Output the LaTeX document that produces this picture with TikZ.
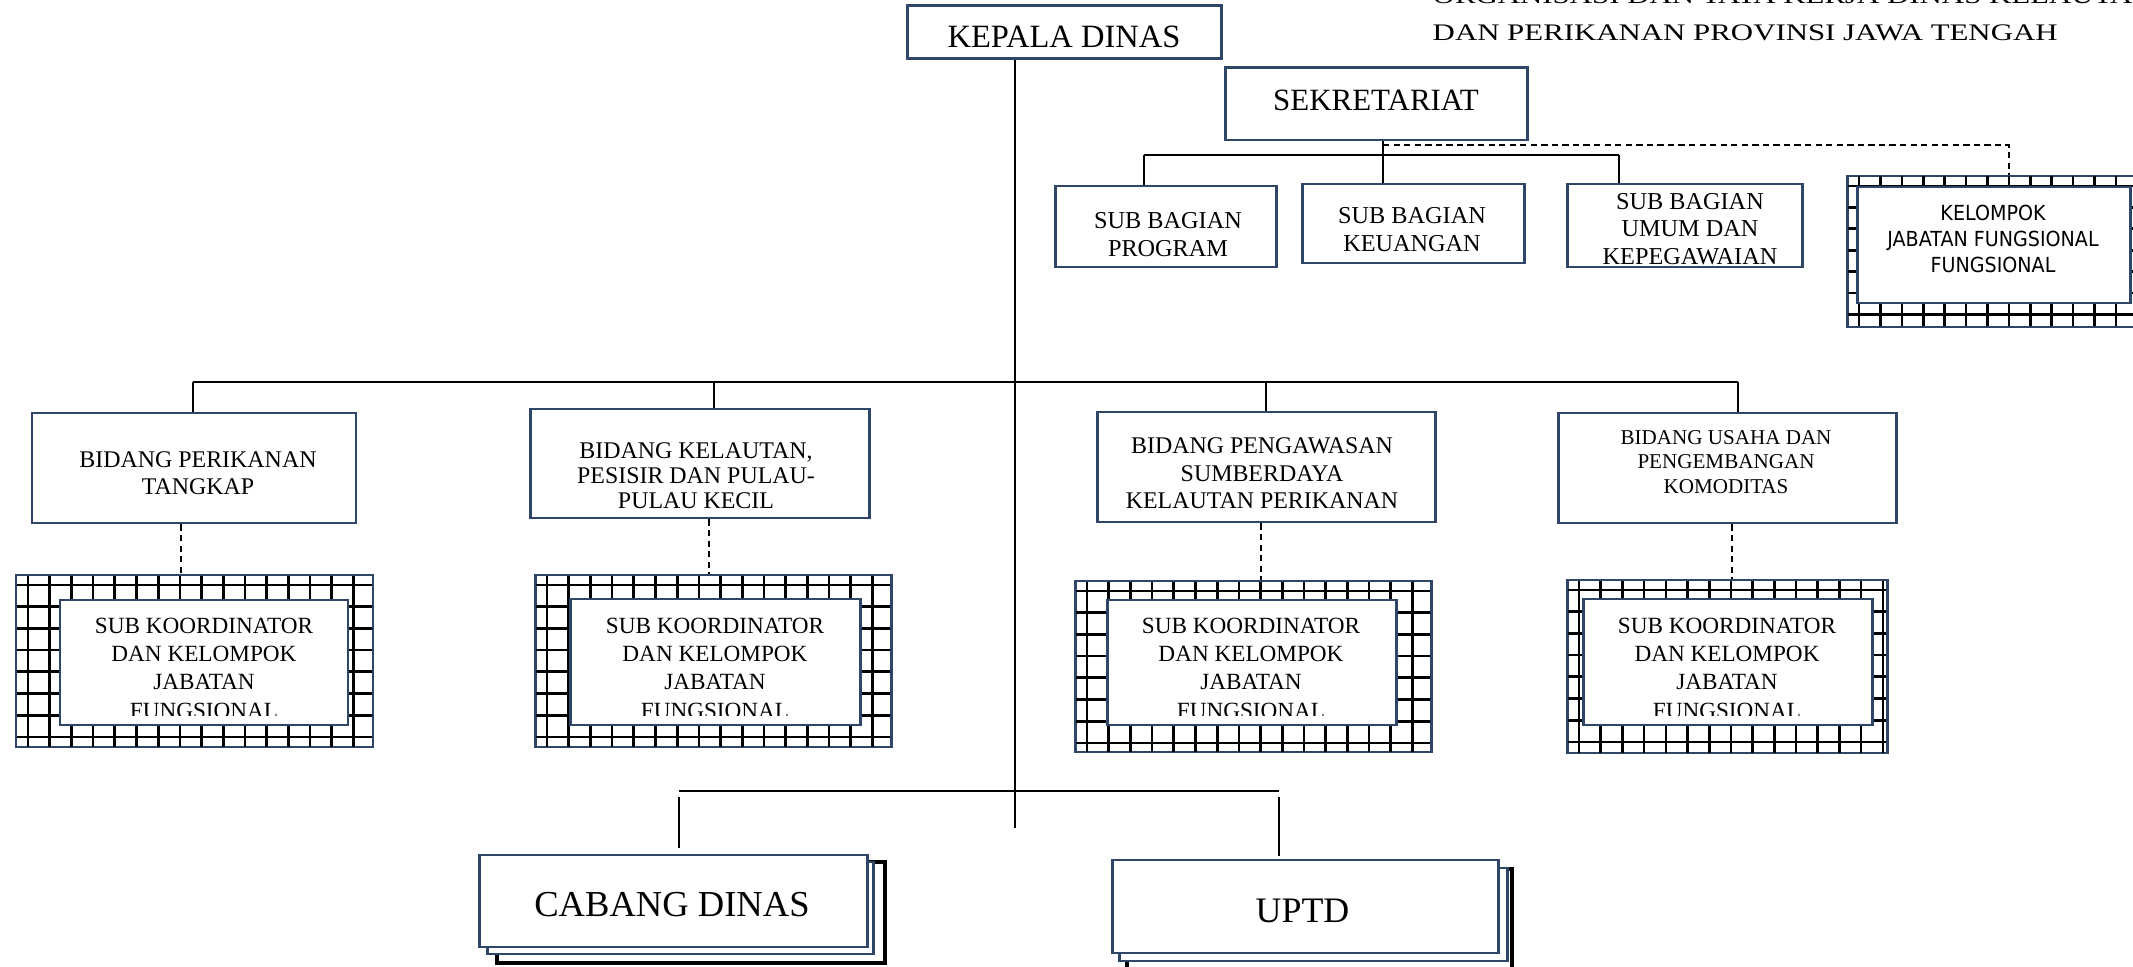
\documentclass[tikz,border=0pt]{standalone}
\usepackage{fontspec}
\setmainfont{Liberation Serif}
\newfontfamily\titlefont{Liberation Serif}[FakeStretch=1.3]
\newfontfamily\kelfont{DejaVu Sans}[FakeStretch=0.92]
\definecolor{navy}{RGB}{47,70,105}
\tikzset{
  boxst/.style={draw=navy, line width=0.85pt, fill=white, inner sep=0pt, rectangle},
  outerst/.style={draw=navy, line width=0.85pt, inner sep=0pt, rectangle},
  txt/.style={inner sep=0pt, align=center, text=black},
  conn/.style={draw=black, line width=0.5pt},
  barst/.style={draw=black, line width=0.8pt},
  dashconn/.style={draw=black, line width=0.6pt, dash pattern=on 1.8pt off 1.2pt},
  gridln/.style={draw=black, line width=0.75pt},
  blackst/.style={draw=black, line width=1.2pt, fill=white, inner sep=0pt, rectangle},
}
\newcommand{\rnode}[6][]{\node[boxst,#1,minimum width={(#5-#3)*0.01cm},minimum height={(#6-#4)*0.01cm}] (#2) at ({(#3+#5)/2},{(#4+#6)/2}) {};}
\newcommand{\gridfill}[5]{%
  \begin{scope}
    \clip (#1+1,#2+1) rectangle (#3-1,#4-1);
    \foreach \i in {0,...,17}{\draw[gridln] ({#1+12+\i*#5},#2) -- ({#1+12+\i*#5},#4);}
    \foreach \j in {0,...,8}{\draw[gridln] (#1,{#2+10+\j*#5}) -- (#3,{#2+10+\j*#5});}
  \end{scope}}
\begin{document}
\begin{tikzpicture}[x=0.01cm,y=-0.01cm]
\useasboundingbox (0,0) rectangle (2133,967);
\clip (0,0) rectangle (2133,967);
\fill[white] (0,0) rectangle (2133,967);

% title
\node[inner sep=0pt, anchor=base west] (title1) at (1432,4) {\titlefont\fontsize{6.75}{10.5}\selectfont ORGANISASI DAN TATA KERJA DINAS KELAUTAN};
\node[inner sep=0pt, anchor=base west] (title2) at (1432,41) {\titlefont\fontsize{6.75}{10.5}\selectfont DAN PERIKANAN PROVINSI JAWA TENGAH};

% trunk
\coordinate (tr) at (1015,828);
\rnode{kepala}{907}{6}{1221}{59}
\node[txt, font=\fontsize{9.25}{11}\selectfont] (t-kepala) at (1064,37) {KEPALA DINAS};
\draw[conn] (kepala.south -| tr) -- (tr);

% sekretariat
\rnode{sekre}{1225}{68}{1527}{140}
\node[txt, font=\fontsize{8.8}{10}\selectfont] (t-sekre) at (1376,100) {SEKRETARIAT};
\rnode{program}{1055}{186}{1276}{267}
\rnode{keuangan}{1302}{184}{1524}{263}
\rnode{umum}{1567}{184}{1802}{267}
\node[txt, font=\fontsize{6.9}{8}\selectfont] (t-program) at (1168,234.5) {SUB BAGIAN\\PROGRAM};
\node[txt, font=\fontsize{6.9}{8}\selectfont] (t-keuangan) at (1412,229.5) {SUB BAGIAN\\KEUANGAN};
\node[txt, font=\fontsize{6.9}{7.8}\selectfont] (t-umum) at (1690,229) {SUB BAGIAN\\UMUM DAN\\KEPEGAWAIAN};
\coordinate (s0) at (1383,155);
\coordinate (s1) at (1383,145);
\coordinate (s2) at (2009,145);
\coordinate (sL) at (1144,155);
\coordinate (sR) at (1619,155);
\draw[conn] (sekre.south -| s0) -- (keuangan.north -| s0);
\draw[barst] (sL) -- (sR);
\draw[conn] (sL) -- (program.north -| sL);
\draw[conn] (sR) -- (umum.north -| sR);

% kelompok jabatan fungsional (top right)
\node[outerst, minimum width={(2145-1847)*0.01cm}, minimum height={(327-176)*0.01cm}] (kelompok) at ({(1847+2145)/2},{(176+327)/2}) {};
\gridfill{1847}{176}{2145}{327}{21.4}
\rnode{kelompokin}{1857}{187}{2130}{303}
\node[txt, font=\kelfont\fontsize{5.9}{7.4}\selectfont] (t-kelompok) at (1993,238.5) {KELOMPOK\\JABATAN FUNGSIONAL\\FUNGSIONAL};
\draw[dashconn] (s1) -- (s2) -- (kelompok.north -| s2);

% main bar and bidang
\coordinate (bL) at (193,382);
\coordinate (bR) at (1738,382);
\coordinate (b2) at (714,382);
\coordinate (b3) at (1266,382);
\draw[barst] (bL) -- (bR);
\rnode{perikanan}{32}{413}{356}{523}
\rnode{kelautan}{530}{409}{869}{518}
\rnode{pengawasan}{1097}{412}{1435}{522}
\rnode{usaha}{1558}{413}{1896}{523}
\draw[conn] (bL) -- (perikanan.north -| bL);
\draw[conn] (b2) -- (kelautan.north -| b2);
\draw[conn] (b3) -- (pengawasan.north -| b3);
\draw[conn] (bR) -- (usaha.north -| bR);
\node[txt, font=\fontsize{6.8}{7.7}\selectfont] (t-perikanan) at (198,473.5) {BIDANG PERIKANAN\\TANGKAP};
\node[txt, font=\fontsize{6.8}{7.0}\selectfont] (t-kelautan) at (696,475.7) {BIDANG KELAUTAN,\\PESISIR DAN PULAU-\\PULAU KECIL};
\node[txt, font=\fontsize{6.8}{7.8}\selectfont] (t-pengawasan) at (1262,473.5) {BIDANG PENGAWASAN\\SUMBERDAYA\\KELAUTAN PERIKANAN};
\node[txt, font=\fontsize{6.0}{6.9}\selectfont] (t-usaha) at (1726,462) {BIDANG USAHA DAN\\PENGEMBANGAN\\KOMODITAS};

% hatched sub koordinator boxes
\node[outerst, minimum width={(373-16)*0.01cm}, minimum height={(747-575)*0.01cm}] (h1) at ({(16+373)/2},{(575+747)/2}) {};
\gridfill{16}{575}{373}{747}{21.7}
\rnode{h1in}{60}{600}{348}{725}
\begin{scope}\clip (60,600) rectangle (348,715);
\node[txt, font=\fontsize{6.6}{8.05}\selectfont] (t-h1) at (204,668) {SUB KOORDINATOR\\DAN KELOMPOK\\JABATAN\\FUNGSIONAL};
\end{scope}

\node[outerst, minimum width={(891-535)*0.01cm}, minimum height={(747-575)*0.01cm}] (h2) at ({(535+891)/2},{(575+747)/2}) {};
\gridfill{535}{575}{891}{747}{21.7}
\rnode{h2in}{570}{599}{860}{725}
\begin{scope}\clip (570,599) rectangle (860,715);
\node[txt, font=\fontsize{6.6}{8.05}\selectfont] (t-h2) at (715,668) {SUB KOORDINATOR\\DAN KELOMPOK\\JABATAN\\FUNGSIONAL};
\end{scope}

\node[outerst, minimum width={(1431-1075)*0.01cm}, minimum height={(752-581)*0.01cm}] (h3) at ({(1075+1431)/2},{(581+752)/2}) {};
\gridfill{1075}{581}{1431}{752}{21.7}
\rnode{h3in}{1107}{600}{1396}{725}
\begin{scope}\clip (1107,600) rectangle (1396,715);
\node[txt, font=\fontsize{6.6}{8.05}\selectfont] (t-h3) at (1251,668) {SUB KOORDINATOR\\DAN KELOMPOK\\JABATAN\\FUNGSIONAL};
\end{scope}

\node[outerst, minimum width={(1887-1567)*0.01cm}, minimum height={(753-580)*0.01cm}] (h4) at ({(1567+1887)/2},{(580+753)/2}) {};
\gridfill{1567}{580}{1887}{753}{21.7}
\rnode{h4in}{1583}{599}{1872}{725}
\begin{scope}\clip (1583,599) rectangle (1872,715);
\node[txt, font=\fontsize{6.6}{8.05}\selectfont] (t-h4) at (1727,668) {SUB KOORDINATOR\\DAN KELOMPOK\\JABATAN\\FUNGSIONAL};
\end{scope}

\coordinate (d1) at (181,0);
\coordinate (d2) at (709,0);
\coordinate (d3) at (1261,0);
\coordinate (d4) at (1732,0);
\draw[dashconn] (perikanan.south -| d1) -- (h1.north -| d1);
\draw[dashconn] (kelautan.south -| d2) -- (h2.north -| d2);
\draw[dashconn] (pengawasan.south -| d3) -- (h3.north -| d3);
\draw[dashconn] (usaha.south -| d4) -- (h4.north -| d4);

% bottom: cabang dinas and uptd
\coordinate (cL) at (679,791);
\coordinate (cR) at (1279,791);
\coordinate (cs) at (679,797);
\coordinate (us) at (1279,797);
\draw[barst] (cL) -- (cR);

\rnode[blackst]{cabang3}{497}{862}{885}{963}
\rnode{cabang2}{487}{862}{873}{954}
\rnode{cabang}{479}{855}{867}{947}
\node[txt, font=\fontsize{10.4}{12}\selectfont] (t-cabang) at (672,904.5) {CABANG DINAS};

\rnode[blackst]{uptd3}{1127}{869}{1512}{990}
\rnode{uptd2}{1119}{868}{1507}{961}
\rnode{uptd}{1112}{860}{1498}{953}
\node[txt, font=\fontsize{10.2}{12}\selectfont] (t-uptd) at (1302.5,910.5) {UPTD};

\draw[conn, shorten >=0.06cm] (cs) -- (cabang.north -| cs);
\draw[conn, shorten >=0.03cm] (us) -- (uptd.north -| us);
\end{tikzpicture}
\end{document}
